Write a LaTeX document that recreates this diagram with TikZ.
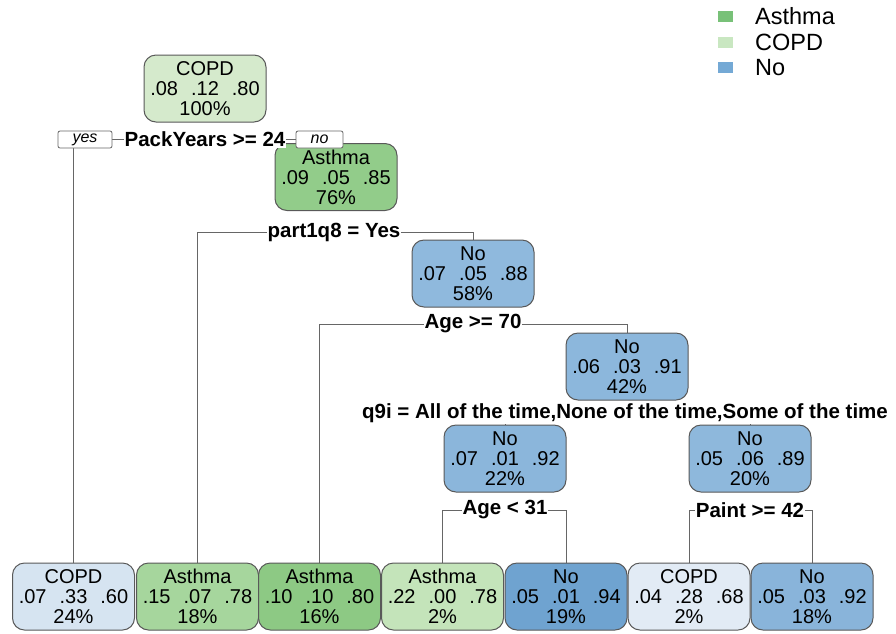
\documentclass[tikz,border=0pt]{standalone}
\usepackage{fontspec}
\setmainfont{Liberation Sans}
\usetikzlibrary{backgrounds}
\newcommand\probs[3]{#1\hspace{0.65em}#2\hspace{0.65em}#3}
\definecolor{cRoot}{HTML}{D5EACC}
\definecolor{cA76}{HTML}{92CC8A}
\definecolor{cN58}{HTML}{8FB9DD}
\definecolor{cN42}{HTML}{8CB7DC}
\definecolor{cN22}{HTML}{8BB6DB}
\definecolor{cN20}{HTML}{8EB8DC}
\definecolor{cL1}{HTML}{D6E4F1}
\definecolor{cL2}{HTML}{A6D69D}
\definecolor{cL3}{HTML}{8DC984}
\definecolor{cL4}{HTML}{C4E4BA}
\definecolor{cL5}{HTML}{6FA3D0}
\definecolor{cL6}{HTML}{E2EBF5}
\definecolor{cL7}{HTML}{89B4DA}
\definecolor{legA}{HTML}{78C178}
\definecolor{legC}{HTML}{C9E7C1}
\definecolor{legN}{HTML}{74A9D5}
\begin{document}
\begin{tikzpicture}[x=1pt,y=-1pt,
  nodebox/.style={draw=black!65, line width=1pt, rounded corners=12pt,
    minimum width=122pt, minimum height=67pt, align=center, inner sep=0pt,
    font=\fontsize{20}{20}\selectfont},
  splitlab/.style={fill=white, inner sep=1pt, font=\bfseries\fontsize{20.5}{21}\selectfont},
  ynbox/.style={draw=black!60, fill=white, line width=0.8pt, rounded corners=2pt,
    minimum height=17pt, inner sep=0pt, font=\itshape\fontsize{16}{16}\selectfont},
  conn/.style={draw=black!60, line width=1pt},
  legsq/.style={minimum width=15pt, minimum height=11pt, inner sep=0pt},
  legtext/.style={anchor=west, inner sep=0pt, font=\fontsize{23.5}{24}\selectfont}]
\useasboundingbox (0,0) rectangle (896,633);

% inner nodes
\node[nodebox, fill=cRoot] (root) at (205,88.5) {COPD\\\probs{.08}{.12}{.80}\\100\%};
\node[nodebox, fill=cA76] (a76) at (336,177) {Asthma\\\probs{.09}{.05}{.85}\\76\%};
\node[nodebox, fill=cN58] (n58) at (473,273.5) {No\\\probs{.07}{.05}{.88}\\58\%};
\node[nodebox, fill=cN42] (n42) at (627,366.5) {No\\\probs{.06}{.03}{.91}\\42\%};
\node[nodebox, fill=cN22] (n22) at (505,458.5) {No\\\probs{.07}{.01}{.92}\\22\%};
\node[nodebox, fill=cN20] (n20) at (750,458.5) {No\\\probs{.05}{.06}{.89}\\20\%};

% leaves
\node[nodebox, fill=cL1] (l1) at (73.5,596.5) {COPD\\\probs{.07}{.33}{.60}\\24\%};
\node[nodebox, fill=cL2] (l2) at (197.5,596.5) {Asthma\\\probs{.15}{.07}{.78}\\18\%};
\node[nodebox, fill=cL3] (l3) at (319.5,596.5) {Asthma\\\probs{.10}{.10}{.80}\\16\%};
\node[nodebox, fill=cL4] (l4) at (442.5,596.5) {Asthma\\\probs{.22}{.00}{.78}\\2\%};
\node[nodebox, fill=cL5] (l5) at (566,596.5) {No\\\probs{.05}{.01}{.94}\\19\%};
\node[nodebox, fill=cL6] (l6) at (689,596.5) {COPD\\\probs{.04}{.28}{.68}\\2\%};
\node[nodebox, fill=cL7] (l7) at (812,596.5) {No\\\probs{.05}{.03}{.92}\\18\%};

% split labels
\node[splitlab] (s1) at (205,139.5) {PackYears >= 24};
\node[ynbox, minimum width=54pt] (yes) at (85,139.5) {yes};
\node[ynbox, minimum width=47pt] (no) at (319.5,139.5) {no};
\node[splitlab] (s2) at (334,232) {part1q8 = Yes};
\node[splitlab] (s3) at (473,324) {Age >= 70};
\node[splitlab] (s4) at (625,413.5) {q9i = All of the time,None of the time,Some of the time};
\node[splitlab] (s5) at (505,510) {Age < 31};
\node[splitlab] (s6) at (750,510) {Paint >= 42};

% connectors
\begin{pgfonlayer}{background}
\fill[white] (0,0) rectangle (896,633);
\draw[conn] (s1.center) -| (l1.north);
\draw[conn] (s1.center) -| (a76.north);
\draw[conn] (s2.center) -| (l2.north);
\draw[conn] (s2.center) -| (n58.north);
\draw[conn] (s3.center) -| (l3.north);
\draw[conn] (s3.center) -| (n42.north);
\draw[conn] (s4.center) -| (n22.north);
\draw[conn] (s4.center) -| (n20.north);
\draw[conn] (s5.center) -| (l4.north);
\draw[conn] (s5.center) -| (l5.north);
\draw[conn] (s6.center) -| (l6.north);
\draw[conn] (s6.center) -| (l7.north);
\end{pgfonlayer}

% legend
\node[legsq, fill=legA] (kA) at (725,16.5) {};
\node[legsq, fill=legC] (kC) at (725,42) {};
\node[legsq, fill=legN] (kN) at (725,67.5) {};
\node[legtext] (tA) at (755,16.5) {Asthma};
\node[legtext] (tC) at (755,42) {COPD};
\node[legtext] (tN) at (755,67.5) {No};
\end{tikzpicture}
\end{document}
